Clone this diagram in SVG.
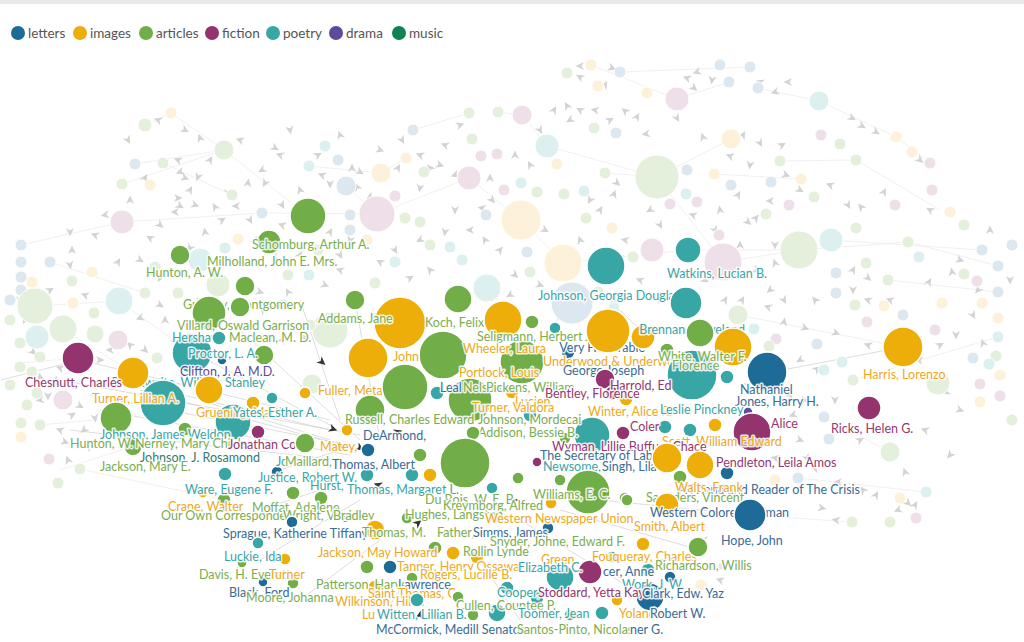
<svg xmlns="http://www.w3.org/2000/svg" xmlns:xlink="http://www.w3.org/1999/xlink" width="1024" height="642" viewBox="0 0 1024 642">
<defs>
<path id="h" d="M4.5,0L-4,-4L-1.5,0L-4,4Z"/>
<style>
text{font-family:Lato,"Noto Sans","Liberation Sans",sans-serif}
.lg{font-size:13.5px;fill:#555}
.t{font-size:12.5px;paint-order:stroke;stroke:#fff;stroke-width:3px;stroke-linejoin:round;stroke-opacity:.85}
.pl{fill:#dde7ef}.pi{fill:#fdf2d9}.pa{fill:#e5f0dc}.pf{fill:#efdfe9}.pp{fill:#dcf0f0}
.L{fill:#1f6b98}.I{fill:#eeae0a}.A{fill:#71ae47}.F{fill:#93346f}.P{fill:#39a6a6}.D{fill:#5c4a9a}.M{fill:#0f8153}
.tL{fill:#3a6c97}.tI{fill:#eda922}.tA{fill:#7aae50}.tF{fill:#94386f}.tP{fill:#3aa5a6}.tD{fill:#5c4a9a}.tM{fill:#2f7d6e}
#bg circle{stroke:#fff;stroke-width:1}
#nodes circle{stroke:#fff;stroke-width:1.5}
#arrows use{fill:#d3d3d3}
#dark use{fill:#333}
</style>
</defs>
<rect width="1024" height="642" fill="#fff"/>
<rect width="1024" height="4" fill="#e9e9e9"/>
<g id="legend">
<circle cx="18" cy="33" r="7" class="L"/><text x="28" y="38" class="lg">letters</text>
<circle cx="80" cy="33" r="7" class="I"/><text x="90" y="38" class="lg">images</text>
<circle cx="146" cy="33" r="7" class="A"/><text x="156" y="38" class="lg">articles</text>
<circle cx="212" cy="33" r="7" class="F"/><text x="222" y="38" class="lg">fiction</text>
<circle cx="273" cy="33" r="7" class="P"/><text x="283" y="38" class="lg">poetry</text>
<circle cx="336" cy="33" r="7" class="D"/><text x="346" y="38" class="lg">drama</text>
<circle cx="399" cy="33" r="7" class="M"/><text x="409" y="38" class="lg">music</text>
</g>
<g id="connectors" fill="none">
<g stroke="#ececec" stroke-width="0.8">
<path d="M145,125L171,113M224,150L308,216M346,186L377,214M381,173L406,158M469,178L521,220M522,115L547,146M547,146L657,177M657,177L731,139M677,99L729,82M819,101L896,137M896,137L930,163M657,177L723,262M723,262L799,250M799,250L908,242M831,240L982,250M35,306L119,301M119,301L192,353M63,329L133,373M780,161L856,160M856,160L940,210M122,184L224,150M163,163L232,195M413,130L469,113M591,65L677,99M620,72L750,67M738,315L903,347M853,380L998,337M888,280L998,292M824,417L890,452M798,478L926,492M852,522L751,515M21,245L122,222M50,262L145,293M20,363L78,358M40,425L116,418M122,222L262,213M262,213L377,214M377,214L469,178M521,220L563,263M563,263L688,250M688,250L799,250M908,242L998,266M60,470L185,429M80,469L224,500M135,164L224,150M171,113L224,150M309,166L381,173M498,112L522,115M605,173L657,177M714,174L801,179M819,101L758,88"/>
</g>
<g stroke="#c9c9c9" stroke-width="0.8" opacity="0.8">
<path d="M60,380L360,435M90,395L350,445M120,380L330,430M170,340L330,425M240,330L360,440M355,300L380,440M300,300L340,420M200,400L330,440M280,470L340,450M230,520L320,490M260,560L360,500M300,600L380,540M380,620L420,560M520,620L480,560M650,600L520,520M700,550L560,510M750,515L600,500M903,347L772,372M545,335L585,285M640,330L600,290M80,360L330,420M100,410L350,455M140,390L360,450M70,430L340,460M1,380L80,360"/>
</g>
</g>
<g id="arrows">
<use href="#h" transform="translate(158,120)rotate(200)"/><use href="#h" transform="translate(185,130)rotate(30)"/><use href="#h" transform="translate(200,138)rotate(250)"/><use href="#h" transform="translate(180,172)rotate(160)"/><use href="#h" transform="translate(145,178)rotate(300)"/><use href="#h" transform="translate(178,160)rotate(200)"/><use href="#h" transform="translate(185,178)rotate(20)"/><use href="#h" transform="translate(198,177)rotate(110)"/><use href="#h" transform="translate(178,198)rotate(0)"/><use href="#h" transform="translate(190,190)rotate(300)"/><use href="#h" transform="translate(175,212)rotate(180)"/><use href="#h" transform="translate(195,205)rotate(20)"/><use href="#h" transform="translate(215,207)rotate(240)"/><use href="#h" transform="translate(228,193)rotate(90)"/><use href="#h" transform="translate(262,170)rotate(150)"/><use href="#h" transform="translate(275,148)rotate(30)"/><use href="#h" transform="translate(280,155)rotate(200)"/><use href="#h" transform="translate(248,183)rotate(280)"/><use href="#h" transform="translate(265,183)rotate(120)"/><use href="#h" transform="translate(282,205)rotate(60)"/><use href="#h" transform="translate(318,155)rotate(330)"/><use href="#h" transform="translate(322,175)rotate(200)"/><use href="#h" transform="translate(330,184)rotate(90)"/><use href="#h" transform="translate(352,168)rotate(270)"/><use href="#h" transform="translate(360,172)rotate(30)"/><use href="#h" transform="translate(357,187)rotate(240)"/><use href="#h" transform="translate(370,197)rotate(150)"/><use href="#h" transform="translate(402,140)rotate(60)"/><use href="#h" transform="translate(420,155)rotate(200)"/><use href="#h" transform="translate(398,168)rotate(300)"/><use href="#h" transform="translate(420,188)rotate(100)"/><use href="#h" transform="translate(430,168)rotate(230)"/><use href="#h" transform="translate(440,165)rotate(20)"/><use href="#h" transform="translate(455,175)rotate(160)"/><use href="#h" transform="translate(490,178)rotate(270)"/><use href="#h" transform="translate(492,200)rotate(50)"/><use href="#h" transform="translate(482,208)rotate(190)"/>
<use href="#h" transform="translate(580,66)rotate(180)"/><use href="#h" transform="translate(580,77)rotate(210)"/><use href="#h" transform="translate(605,85)rotate(300)"/><use href="#h" transform="translate(612,68)rotate(20)"/><use href="#h" transform="translate(687,78)rotate(200)"/><use href="#h" transform="translate(697,72)rotate(160)"/><use href="#h" transform="translate(694,88)rotate(40)"/><use href="#h" transform="translate(684,98)rotate(230)"/><use href="#h" transform="translate(712,80)rotate(100)"/><use href="#h" transform="translate(760,82)rotate(200)"/><use href="#h" transform="translate(788,82)rotate(180)"/><use href="#h" transform="translate(775,92)rotate(160)"/><use href="#h" transform="translate(554,110)rotate(300)"/><use href="#h" transform="translate(567,106)rotate(240)"/><use href="#h" transform="translate(570,120)rotate(150)"/><use href="#h" transform="translate(580,110)rotate(210)"/><use href="#h" transform="translate(595,110)rotate(190)"/><use href="#h" transform="translate(610,120)rotate(330)"/><use href="#h" transform="translate(625,111)rotate(220)"/><use href="#h" transform="translate(637,117)rotate(300)"/><use href="#h" transform="translate(646,134)rotate(170)"/><use href="#h" transform="translate(677,118)rotate(60)"/><use href="#h" transform="translate(703,137)rotate(250)"/><use href="#h" transform="translate(743,135)rotate(300)"/><use href="#h" transform="translate(760,143)rotate(60)"/><use href="#h" transform="translate(730,156)rotate(200)"/><use href="#h" transform="translate(782,145)rotate(330)"/><use href="#h" transform="translate(852,118)rotate(30)"/><use href="#h" transform="translate(862,126)rotate(30)"/><use href="#h" transform="translate(876,132)rotate(30)"/><use href="#h" transform="translate(920,160)rotate(40)"/><use href="#h" transform="translate(786,175)rotate(20)"/><use href="#h" transform="translate(800,190)rotate(30)"/><use href="#h" transform="translate(830,185)rotate(200)"/><use href="#h" transform="translate(848,205)rotate(60)"/><use href="#h" transform="translate(861,207)rotate(230)"/><use href="#h" transform="translate(884,192)rotate(300)"/><use href="#h" transform="translate(590,200)rotate(120)"/><use href="#h" transform="translate(614,194)rotate(290)"/><use href="#h" transform="translate(617,183)rotate(40)"/><use href="#h" transform="translate(697,200)rotate(80)"/><use href="#h" transform="translate(720,210)rotate(260)"/><use href="#h" transform="translate(738,195)rotate(300)"/><use href="#h" transform="translate(750,165)rotate(100)"/><use href="#h" transform="translate(770,201)rotate(180)"/><use href="#h" transform="translate(540,130)rotate(60)"/><use href="#h" transform="translate(530,165)rotate(240)"/><use href="#h" transform="translate(515,155)rotate(270)"/>
<use href="#h" transform="translate(693,215)rotate(200)"/><use href="#h" transform="translate(748,222)rotate(40)"/><use href="#h" transform="translate(756,218)rotate(310)"/><use href="#h" transform="translate(775,245)rotate(90)"/><use href="#h" transform="translate(775,263)rotate(250)"/><use href="#h" transform="translate(757,270)rotate(20)"/><use href="#h" transform="translate(770,290)rotate(140)"/><use href="#h" transform="translate(742,300)rotate(300)"/><use href="#h" transform="translate(768,307)rotate(200)"/><use href="#h" transform="translate(784,300)rotate(60)"/><use href="#h" transform="translate(784,322)rotate(280)"/><use href="#h" transform="translate(805,328)rotate(20)"/><use href="#h" transform="translate(800,360)rotate(150)"/><use href="#h" transform="translate(817,369)rotate(320)"/><use href="#h" transform="translate(815,300)rotate(230)"/><use href="#h" transform="translate(853,290)rotate(90)"/><use href="#h" transform="translate(868,300)rotate(200)"/><use href="#h" transform="translate(853,270)rotate(300)"/><use href="#h" transform="translate(868,278)rotate(40)"/><use href="#h" transform="translate(890,300)rotate(200)"/><use href="#h" transform="translate(900,330)rotate(270)"/><use href="#h" transform="translate(919,360)rotate(190)"/><use href="#h" transform="translate(940,345)rotate(330)"/><use href="#h" transform="translate(956,335)rotate(90)"/><use href="#h" transform="translate(952,272)rotate(260)"/><use href="#h" transform="translate(960,260)rotate(20)"/><use href="#h" transform="translate(978,290)rotate(130)"/><use href="#h" transform="translate(930,210)rotate(210)"/><use href="#h" transform="translate(929,282)rotate(300)"/><use href="#h" transform="translate(973,315)rotate(60)"/><use href="#h" transform="translate(983,343)rotate(250)"/><use href="#h" transform="translate(946,392)rotate(160)"/><use href="#h" transform="translate(1000,320)rotate(100)"/><use href="#h" transform="translate(703,360)rotate(30)"/><use href="#h" transform="translate(748,385)rotate(200)"/><use href="#h" transform="translate(790,395)rotate(300)"/><use href="#h" transform="translate(836,333)rotate(20)"/><use href="#h" transform="translate(868,345)rotate(200)"/><use href="#h" transform="translate(835,400)rotate(90)"/><use href="#h" transform="translate(804,400)rotate(250)"/>
<use href="#h" transform="translate(793,415)rotate(160)"/><use href="#h" transform="translate(780,425)rotate(300)"/><use href="#h" transform="translate(800,440)rotate(20)"/><use href="#h" transform="translate(775,458)rotate(190)"/><use href="#h" transform="translate(807,458)rotate(60)"/><use href="#h" transform="translate(815,468)rotate(200)"/><use href="#h" transform="translate(838,482)rotate(180)"/><use href="#h" transform="translate(822,508)rotate(10)"/><use href="#h" transform="translate(836,520)rotate(190)"/><use href="#h" transform="translate(863,490)rotate(230)"/><use href="#h" transform="translate(876,495)rotate(300)"/><use href="#h" transform="translate(905,472)rotate(250)"/><use href="#h" transform="translate(908,503)rotate(40)"/><use href="#h" transform="translate(898,510)rotate(160)"/><use href="#h" transform="translate(915,505)rotate(300)"/><use href="#h" transform="translate(720,580)rotate(200)"/><use href="#h" transform="translate(704,540)rotate(180)"/>
<use href="#h" transform="translate(70,232)rotate(90)"/><use href="#h" transform="translate(72,250)rotate(270)"/><use href="#h" transform="translate(70,265)rotate(80)"/><use href="#h" transform="translate(95,235)rotate(200)"/><use href="#h" transform="translate(118,262)rotate(300)"/><use href="#h" transform="translate(140,260)rotate(30)"/><use href="#h" transform="translate(150,238)rotate(210)"/><use href="#h" transform="translate(190,248)rotate(120)"/><use href="#h" transform="translate(205,232)rotate(260)"/><use href="#h" transform="translate(180,206)rotate(30)"/><use href="#h" transform="translate(236,206)rotate(180)"/><use href="#h" transform="translate(222,220)rotate(330)"/><use href="#h" transform="translate(250,220)rotate(60)"/><use href="#h" transform="translate(282,225)rotate(200)"/><use href="#h" transform="translate(258,238)rotate(300)"/><use href="#h" transform="translate(275,258)rotate(150)"/><use href="#h" transform="translate(260,292)rotate(20)"/><use href="#h" transform="translate(288,292)rotate(240)"/><use href="#h" transform="translate(305,338)rotate(100)"/><use href="#h" transform="translate(282,340)rotate(300)"/><use href="#h" transform="translate(200,300)rotate(200)"/><use href="#h" transform="translate(160,305)rotate(30)"/><use href="#h" transform="translate(140,318)rotate(160)"/><use href="#h" transform="translate(165,320)rotate(270)"/><use href="#h" transform="translate(145,350)rotate(40)"/><use href="#h" transform="translate(130,345)rotate(220)"/><use href="#h" transform="translate(100,360)rotate(0)"/><use href="#h" transform="translate(110,350)rotate(180)"/><use href="#h" transform="translate(55,380)rotate(300)"/><use href="#h" transform="translate(48,396)rotate(90)"/><use href="#h" transform="translate(60,368)rotate(200)"/><use href="#h" transform="translate(33,352)rotate(40)"/><use href="#h" transform="translate(40,377)rotate(260)"/><use href="#h" transform="translate(25,320)rotate(120)"/><use href="#h" transform="translate(105,385)rotate(0)"/><use href="#h" transform="translate(112,398)rotate(200)"/><use href="#h" transform="translate(72,415)rotate(330)"/><use href="#h" transform="translate(80,406)rotate(30)"/><use href="#h" transform="translate(60,430)rotate(200)"/><use href="#h" transform="translate(65,442)rotate(20)"/><use href="#h" transform="translate(68,460)rotate(250)"/><use href="#h" transform="translate(84,430)rotate(140)"/><use href="#h" transform="translate(88,447)rotate(300)"/><use href="#h" transform="translate(95,418)rotate(80)"/><use href="#h" transform="translate(40,400)rotate(170)"/>
<use href="#h" transform="translate(325,285)rotate(20)"/><use href="#h" transform="translate(340,270)rotate(200)"/><use href="#h" transform="translate(300,255)rotate(300)"/><use href="#h" transform="translate(395,250)rotate(60)"/><use href="#h" transform="translate(420,240)rotate(150)"/><use href="#h" transform="translate(430,270)rotate(230)"/><use href="#h" transform="translate(500,250)rotate(310)"/><use href="#h" transform="translate(515,275)rotate(40)"/><use href="#h" transform="translate(350,240)rotate(110)"/><use href="#h" transform="translate(615,300)rotate(20)"/><use href="#h" transform="translate(640,280)rotate(200)"/><use href="#h" transform="translate(660,300)rotate(120)"/><use href="#h" transform="translate(725,300)rotate(300)"/><use href="#h" transform="translate(715,230)rotate(60)"/><use href="#h" transform="translate(470,230)rotate(180)"/><use href="#h" transform="translate(455,210)rotate(90)"/><use href="#h" transform="translate(580,240)rotate(250)"/><use href="#h" transform="translate(545,230)rotate(30)"/>
<use href="#h" transform="translate(128,140)rotate(60)"/><use href="#h" transform="translate(210,160)rotate(300)"/><use href="#h" transform="translate(240,140)rotate(200)"/><use href="#h" transform="translate(290,130)rotate(80)"/><use href="#h" transform="translate(300,190)rotate(250)"/><use href="#h" transform="translate(160,225)rotate(40)"/><use href="#h" transform="translate(130,200)rotate(270)"/><use href="#h" transform="translate(105,215)rotate(170)"/><use href="#h" transform="translate(232,262)rotate(20)"/><use href="#h" transform="translate(330,232)rotate(300)"/><use href="#h" transform="translate(340,255)rotate(60)"/><use href="#h" transform="translate(380,262)rotate(210)"/><use href="#h" transform="translate(410,278)rotate(330)"/><use href="#h" transform="translate(445,232)rotate(100)"/><use href="#h" transform="translate(485,240)rotate(240)"/><use href="#h" transform="translate(510,295)rotate(150)"/><use href="#h" transform="translate(540,285)rotate(20)"/><use href="#h" transform="translate(600,210)rotate(300)"/><use href="#h" transform="translate(625,240)rotate(190)"/><use href="#h" transform="translate(660,225)rotate(60)"/><use href="#h" transform="translate(740,245)rotate(270)"/><use href="#h" transform="translate(705,280)rotate(30)"/><use href="#h" transform="translate(650,210)rotate(150)"/><use href="#h" transform="translate(460,125)rotate(340)"/><use href="#h" transform="translate(445,145)rotate(200)"/><use href="#h" transform="translate(380,150)rotate(20)"/><use href="#h" transform="translate(340,135)rotate(250)"/><use href="#h" transform="translate(20,300)rotate(90)"/><use href="#h" transform="translate(85,295)rotate(200)"/><use href="#h" transform="translate(50,290)rotate(330)"/><use href="#h" transform="translate(160,278)rotate(120)"/><use href="#h" transform="translate(263,310)rotate(230)"/><use href="#h" transform="translate(990,230)rotate(270)"/><use href="#h" transform="translate(1010,280)rotate(90)"/><use href="#h" transform="translate(960,410)rotate(20)"/><use href="#h" transform="translate(925,430)rotate(200)"/><use href="#h" transform="translate(860,440)rotate(330)"/><use href="#h" transform="translate(950,455)rotate(130)"/>
</g>
<g id="bg">
<circle cx="145" cy="125" r="7" class="pa"/><circle cx="171" cy="113" r="6" class="pi"/><circle cx="135" cy="164" r="6" class="pl"/><circle cx="163" cy="163" r="6" class="pa"/><circle cx="122" cy="184" r="6" class="pa"/><circle cx="150" cy="185" r="6" class="pi"/><circle cx="224" cy="150" r="10" class="pa"/><circle cx="232" cy="195" r="6" class="pa"/><circle cx="325" cy="146" r="6" class="pp"/><circle cx="338" cy="160" r="6" class="pl"/><circle cx="309" cy="166" r="6" class="pp"/><circle cx="346" cy="186" r="10" class="pl"/><circle cx="381" cy="173" r="10" class="pi"/><circle cx="413" cy="130" r="6" class="pl"/><circle cx="406" cy="158" r="6" class="pi"/><circle cx="424" cy="172" r="6" class="pa"/><circle cx="395" cy="196" r="6" class="pf"/><circle cx="377" cy="214" r="18" class="pf"/><circle cx="469" cy="113" r="6" class="pa"/><circle cx="498" cy="112" r="6" class="pa"/><circle cx="472" cy="139" r="6" class="pa"/><circle cx="481" cy="156" r="6" class="pf"/><circle cx="497" cy="154" r="6" class="pf"/><circle cx="469" cy="178" r="12" class="pf"/><circle cx="504" cy="190" r="6" class="pf"/>
<circle cx="567" cy="73" r="6" class="pa"/><circle cx="591" cy="65" r="6" class="pi"/><circle cx="620" cy="72" r="6" class="pl"/><circle cx="598" cy="86" r="6" class="pi"/><circle cx="720" cy="65" r="6" class="pl"/><circle cx="750" cy="67" r="6" class="pl"/><circle cx="729" cy="82" r="6" class="pl"/><circle cx="758" cy="88" r="6" class="pl"/><circle cx="647" cy="93" r="6" class="pi"/><circle cx="677" cy="99" r="12" class="pf"/><circle cx="819" cy="101" r="10" class="pp"/><circle cx="522" cy="115" r="10" class="pf"/><circle cx="547" cy="146" r="12" class="pp"/><circle cx="557" cy="164" r="6" class="pi"/><circle cx="594" cy="128" r="6" class="pa"/><circle cx="616" cy="133" r="6" class="pl"/><circle cx="731" cy="139" r="10" class="pi"/><circle cx="821" cy="135" r="6" class="pf"/><circle cx="840" cy="144" r="6" class="pa"/><circle cx="856" cy="160" r="6" class="pa"/><circle cx="896" cy="137" r="6" class="pi"/><circle cx="912" cy="152" r="6" class="pi"/><circle cx="930" cy="163" r="6" class="pf"/><circle cx="657" cy="177" r="22" class="pa"/><circle cx="687" cy="170" r="6" class="pl"/><circle cx="686" cy="194" r="6" class="pp"/><circle cx="714" cy="174" r="6" class="pi"/><circle cx="731" cy="185" r="6" class="pl"/><circle cx="780" cy="161" r="6" class="pa"/><circle cx="771" cy="182" r="6" class="pl"/><circle cx="801" cy="179" r="6" class="pi"/><circle cx="814" cy="197" r="6" class="pa"/><circle cx="521" cy="183" r="6" class="pp"/><circle cx="537" cy="192" r="6" class="pa"/><circle cx="564" cy="194" r="6" class="pa"/><circle cx="584" cy="191" r="6" class="pp"/><circle cx="605" cy="173" r="6" class="pa"/><circle cx="670" cy="204" r="6" class="pf"/><circle cx="697" cy="202" r="6" class="pf"/><circle cx="789" cy="205" r="6" class="pf"/><circle cx="895" cy="205" r="6" class="pf"/><circle cx="521" cy="220" r="20" class="pi"/>
<circle cx="563" cy="263" r="19" class="pi"/><circle cx="350" cy="215" r="6" class="pl"/><circle cx="350" cy="230" r="6" class="pl"/><circle cx="367" cy="240" r="6" class="pi"/><circle cx="405" cy="218" r="6" class="pa"/><circle cx="420" cy="222" r="6" class="pa"/><circle cx="486" cy="215" r="6" class="pl"/><circle cx="487" cy="288" r="14" class="pp"/><circle cx="527" cy="252" r="6" class="pl"/><circle cx="530" cy="272" r="6" class="pa"/><circle cx="572" cy="303" r="21" class="pl"/><circle cx="586" cy="218" r="6" class="pa"/><circle cx="612" cy="228" r="6" class="pi"/><circle cx="633" cy="257" r="6" class="pa"/><circle cx="652" cy="250" r="12" class="pf"/><circle cx="462" cy="260" r="6" class="pp"/><circle cx="450" cy="247" r="6" class="pp"/><circle cx="395" cy="262" r="6" class="pp"/><circle cx="375" cy="283" r="6" class="pa"/><circle cx="330" cy="330" r="18" class="pa"/><circle cx="310" cy="325" r="6" class="pa"/><circle cx="312" cy="384" r="10" class="pa"/><circle cx="430" cy="245" r="6" class="pa"/><circle cx="598" cy="292" r="6" class="pa"/><circle cx="614" cy="308" r="6" class="pp"/><circle cx="318" cy="250" r="6" class="pa"/><circle cx="283" cy="305" r="6" class="pl"/>
<circle cx="719" cy="235" r="6" class="pf"/><circle cx="723" cy="262" r="19" class="pf"/><circle cx="766" cy="214" r="6" class="pa"/><circle cx="799" cy="250" r="19" class="pa"/><circle cx="831" cy="240" r="12" class="pp"/><circle cx="856" cy="228" r="6" class="pa"/><circle cx="908" cy="242" r="6" class="pa"/><circle cx="866" cy="263" r="6" class="pa"/><circle cx="919" cy="257" r="6" class="pp"/><circle cx="836" cy="273" r="6" class="pl"/><circle cx="836" cy="293" r="6" class="pl"/><circle cx="888" cy="280" r="6" class="pa"/><circle cx="855" cy="305" r="6" class="pa"/><circle cx="982" cy="250" r="6" class="pl"/><circle cx="998" cy="266" r="6" class="pl"/><circle cx="977" cy="281" r="6" class="pf"/><circle cx="998" cy="292" r="6" class="pl"/><circle cx="942" cy="303" r="6" class="pi"/><circle cx="884" cy="306" r="6" class="pi"/><circle cx="903" cy="315" r="6" class="pl"/><circle cx="982" cy="303" r="6" class="pi"/><circle cx="964" cy="274" r="6" class="pa"/><circle cx="867" cy="322" r="6" class="pf"/><circle cx="935" cy="330" r="6" class="pf"/><circle cx="738" cy="315" r="10" class="pa"/><circle cx="754" cy="329" r="6" class="pp"/><circle cx="776" cy="339" r="6" class="pf"/><circle cx="769" cy="346" r="6" class="pa"/><circle cx="817" cy="344" r="6" class="pl"/><circle cx="824" cy="370" r="6" class="pp"/><circle cx="842" cy="362" r="6" class="pp"/><circle cx="853" cy="380" r="6" class="pa"/><circle cx="998" cy="337" r="6" class="pp"/><circle cx="998" cy="318" r="6" class="pi"/><circle cx="996" cy="356" r="6" class="pa"/><circle cx="989" cy="364" r="6" class="pp"/><circle cx="973" cy="358" r="6" class="pl"/><circle cx="1000" cy="375" r="6" class="pi"/><circle cx="980" cy="384" r="6" class="pf"/><circle cx="1000" cy="396" r="6" class="pf"/><circle cx="980" cy="402" r="6" class="pi"/><circle cx="938" cy="383" r="12" class="pa"/><circle cx="932" cy="190" r="6" class="pf"/><circle cx="950" cy="212" r="6" class="pi"/><circle cx="964" cy="225" r="6" class="pa"/><circle cx="1012" cy="245" r="6" class="pl"/><circle cx="1012" cy="420" r="6" class="pa"/>
<circle cx="824" cy="417" r="6" class="pl"/><circle cx="829" cy="439" r="6" class="pl"/><circle cx="890" cy="452" r="10" class="pa"/><circle cx="798" cy="478" r="6" class="pl"/><circle cx="775" cy="480" r="6" class="pi"/><circle cx="900" cy="498" r="6" class="pi"/><circle cx="926" cy="492" r="6" class="pp"/><circle cx="916" cy="518" r="6" class="pf"/><circle cx="852" cy="522" r="6" class="pa"/><circle cx="890" cy="522" r="6" class="pa"/><circle cx="701" cy="585" r="6" class="pi"/><circle cx="722" cy="566" r="4" class="pf"/>
<circle cx="122" cy="222" r="12" class="pf"/><circle cx="21" cy="245" r="6" class="pl"/><circle cx="21" cy="262" r="6" class="pl"/><circle cx="21" cy="277" r="6" class="pl"/><circle cx="21" cy="290" r="6" class="pl"/><circle cx="32" cy="282" r="6" class="pi"/><circle cx="50" cy="262" r="6" class="pl"/><circle cx="92" cy="272" r="6" class="pi"/><circle cx="72" cy="281" r="6" class="pa"/><circle cx="73" cy="303" r="6" class="pi"/><circle cx="145" cy="293" r="6" class="pa"/><circle cx="178" cy="293" r="6" class="pa"/><circle cx="35" cy="306" r="18" class="pa"/><circle cx="119" cy="301" r="14" class="pp"/><circle cx="63" cy="329" r="14" class="pa"/><circle cx="94" cy="313" r="6" class="pa"/><circle cx="37" cy="337" r="12" class="pp"/><circle cx="20" cy="343" r="6" class="pa"/><circle cx="95" cy="334" r="9" class="pa"/><circle cx="20" cy="367" r="6" class="pa"/><circle cx="40" cy="357" r="6" class="pa"/><circle cx="118" cy="340" r="10" class="pf"/><circle cx="157" cy="358" r="6" class="pa"/><circle cx="238" cy="239" r="6" class="pi"/><circle cx="262" cy="213" r="6" class="pl"/><circle cx="225" cy="248" r="6" class="pp"/><circle cx="200" cy="260" r="12" class="pp"/><circle cx="218" cy="285" r="12" class="pa"/><circle cx="288" cy="275" r="6" class="pa"/><circle cx="309" cy="275" r="6" class="pp"/><circle cx="63" cy="400" r="10" class="pf"/><circle cx="37" cy="393" r="6" class="pa"/><circle cx="27" cy="405" r="6" class="pa"/><circle cx="32" cy="372" r="6" class="pa"/><circle cx="49" cy="459" r="6" class="pf"/><circle cx="80" cy="469" r="6" class="pa"/><circle cx="58" cy="483" r="6" class="pa"/><circle cx="21" cy="423" r="6" class="pa"/><circle cx="21" cy="437" r="6" class="pi"/><circle cx="40" cy="425" r="6" class="pa"/><circle cx="155" cy="267" r="6" class="pa"/><circle cx="10" cy="300" r="6" class="pl"/><circle cx="10" cy="320" r="6" class="pa"/><circle cx="10" cy="385" r="6" class="pa"/>
</g>
<g id="dark">
<use href="#h" transform="translate(322,362)rotate(40)"/><use href="#h" transform="translate(333,429)rotate(20)"/><use href="#h" transform="translate(340,447)rotate(10)"/><use href="#h" transform="translate(398,432)rotate(-20)"/><use href="#h" transform="translate(360,448)rotate(30)"/><use href="#h" transform="translate(378,485)rotate(200)"/><use href="#h" transform="translate(418,523)rotate(-40)"/><use href="#h" transform="translate(470,470)rotate(180)"/><use href="#h" transform="translate(514,501)rotate(210)"/><use href="#h" transform="translate(420,615)rotate(-80)"/>
</g>
<g id="nodes">
<g id="n-green1"><circle cx="308" cy="216" r="18" class="A"/></g>
<g id="n-schomburg"><circle cx="269" cy="242" r="12" class="A"/><text x="252" y="249" class="t tA">Schomburg, Arthur A.</text></g>
<g id="n-milholland"><text x="207" y="266" class="t tA">Milholland, John E. Mrs.</text></g>
<g id="n-hunton-aw"><circle cx="180" cy="255" r="10" class="A"/><text x="146" y="277" class="t tA">Hunton, A. W.</text></g>
<g id="n-a245"><circle cx="245" cy="286" r="10" class="A"/></g>
<g id="n-gregory"><text x="183" y="309" class="t tA">Gregory, Montgomery</text><circle cx="209" cy="313" r="17" class="A"/><circle cx="240" cy="307" r="10" class="A"/></g>
<g id="n-i400"><circle cx="400" cy="323" r="26" class="I"/></g>
<g id="n-addams"><circle cx="355" cy="300" r="10" class="A"/><text x="318" y="323" class="t tA">Addams, Jane</text></g>
<g id="n-a264"><circle cx="264" cy="355" r="10" class="A"/></g>
<g id="n-proctor"><circle cx="192" cy="353" r="20" class="P"/><circle cx="222" cy="360" r="5" class="L"/></g>
<g id="n-villard"><text x="177" y="330" class="t tA">Villard, Oswald Garrison</text></g>
<g id="n-hershaw"><text x="172" y="342" class="t tP">Hershaw,</text><circle cx="219" cy="338" r="7" class="P"/><text x="229" y="342" class="t tA">Maclean, M. D.</text><text x="188" y="358" class="t tP">Proctor, L. A.</text><text x="180" y="376" class="t tD">Clifton, J. A. M.D.</text></g>
<g id="n-braithwaite"><text x="265" y="387" text-anchor="end" class="t tP">Braithwaite, William Stanley</text><circle cx="209" cy="390" r="14" class="I"/></g>
<g id="n-p163"><circle cx="163" cy="403" r="23" class="P"/></g>
<g id="n-turner-lillian"><circle cx="133" cy="373" r="16" class="I"/><text x="92" y="403" class="t tI">Turner, Lillian A.</text></g>
<g id="n-chesnutt"><circle cx="78" cy="358" r="16" class="F"/><text x="25" y="387" class="t tF">Chesnutt, Charles</text></g>
<g id="n-fuller"><circle cx="253" cy="403" r="7" class="I"/><circle cx="272" cy="398" r="6" class="P"/><circle cx="305" cy="393" r="6" class="I"/><text x="318" y="395" class="t tI">Fuller, Meta</text></g>
<g id="n-yates"><circle cx="233" cy="422" r="18" class="P"/><text x="196" y="417" class="t tI">Gruening, Martha</text><text x="233" y="417" class="t tP">Yates, Esther A.</text></g>
<g id="n-a116"><circle cx="116" cy="418" r="16" class="A"/><circle cx="185" cy="429" r="7" class="A"/><circle cx="258" cy="432" r="7" class="F"/><circle cx="133" cy="447" r="9" class="A"/></g>
<g id="n-johnson-jw"><text x="100" y="439" class="t tP">Johnson, James Weldon</text><text x="70" y="448" class="t tA">Hunton, W.</text><text x="135" y="448" class="t tA">Nerney, Mary Childs</text><text x="228" y="449" class="t tF">Jonathan Cove</text><text x="140" y="462" class="t tM">Johnson, J. Rosamond</text><text x="100" y="471" class="t tA">Jackson, Mary E.</text></g>
<g id="n-a305"><circle cx="305" cy="443" r="10" class="A"/><circle cx="347" cy="430" r="6" class="I"/></g>
<g id="n-matey"><text x="320" y="451" class="t tI">Matey,</text><circle cx="368" cy="450" r="7" class="L"/></g>
<g id="n-justice"><circle cx="225" cy="474" r="7" class="P"/><circle cx="277" cy="472" r="6" class="L"/><text x="276" y="466" class="t tP">Jc</text><text x="285" y="466" class="t tA">Maillard,</text><text x="258" y="482" class="t tP">Justice, Robert W.</text></g>
<g id="n-ware"><circle cx="203" cy="493" r="5" class="I"/><circle cx="224" cy="500" r="7" class="A"/><circle cx="293" cy="493" r="7" class="A"/><circle cx="321" cy="498" r="7" class="A"/><text x="185" y="494" class="t tP">Ware, Eugene F.</text><text x="310" y="490" class="t tP">Hurst,</text><text x="168" y="511" class="t tI">Crane, Walter</text><text x="161" y="520" class="t tA">Our Own Correspondent</text><text x="252" y="512" class="t tA">Moffat, Adalene</text><text x="283" y="520" class="t tA">Wright, Virginia</text><text x="333" y="520" class="t tA">Bradley</text></g>
<g id="n-sprague"><circle cx="292" cy="522" r="6" class="L"/><text x="223" y="538" class="t tL">Sprague, Katherine Tiffany</text></g>
<g id="n-luckie"><circle cx="258" cy="543" r="6" class="P"/><circle cx="285" cy="559" r="6" class="I"/><circle cx="242" cy="563" r="5" class="A"/><text x="224" y="561" class="t tP">Luckie, Ida</text></g>
<g id="n-davis"><circle cx="263" cy="582" r="5" class="L"/><circle cx="293" cy="583" r="6" class="A"/><text x="199" y="579" class="t tA">Davis, H. Everett</text><text x="269" y="579" class="t tI">Turner</text><text x="229" y="597" class="t tL">Black, Ford</text><text x="246" y="602" class="t tA">Moore, Johanna</text></g>
<g id="n-koch"><circle cx="458" cy="299" r="14" class="A"/><text x="425" y="327" class="t tA">Koch, Felix</text></g>
<g id="n-a443"><circle cx="443" cy="355" r="24" class="A"/></g>
<g id="n-john"><circle cx="368" cy="358" r="20" class="I"/><text x="393" y="361" class="t tI">John</text></g>
<g id="n-a405"><circle cx="405" cy="387" r="23" class="A"/><circle cx="370" cy="410" r="15" class="A"/></g>
<g id="n-seligmann"><circle cx="503" cy="320" r="19" class="I"/><circle cx="532" cy="322" r="7" class="A"/><circle cx="555" cy="328" r="6" class="P"/><circle cx="522" cy="362" r="22" class="A"/><circle cx="568" cy="352" r="7" class="L"/><text x="477" y="341" class="t tA">Seligmann, Herbert J.</text><text x="463" y="353" class="t tI">Wheeler, Laura</text></g>
<g id="n-a470"><circle cx="470" cy="400" r="22" class="A"/><circle cx="437" cy="393" r="7" class="P"/><circle cx="512" cy="392" r="7" class="I"/><circle cx="530" cy="415" r="7" class="P"/></g>
<g id="n-underwood"><text x="543" y="366" class="t tI">Underwood &amp; Underwood</text><text x="645" y="352" text-anchor="end" class="t tL">Very Honorable</text><text x="563" y="375" class="t tL">George Joseph</text><text x="459" y="377" class="t tI">Portlock, Louis</text><text x="440" y="392" class="t tL">Leal</text><text x="463" y="392" class="t tA">Nelson,</text><text x="486" y="392" class="t tA">Pickens, William</text></g>
<g id="n-georgia"><circle cx="606" cy="266" r="19" class="P"/><text x="538" y="300" class="t tP">Johnson, Georgia Douglas</text></g>
<g id="n-i608"><circle cx="608" cy="331" r="22" class="I"/><circle cx="643" cy="337" r="12" class="I"/><circle cx="667" cy="350" r="7" class="A"/></g>
<g id="n-watkins"><circle cx="688" cy="250" r="13" class="P"/><text x="667" y="278" class="t tP">Watkins, Lucian B.</text></g>
<g id="n-p686"><circle cx="686" cy="303" r="16" class="P"/><text x="745" y="334" text-anchor="end" class="t tP">Brennan, Cleveland</text><circle cx="700" cy="333" r="14" class="A"/></g>
<g id="n-white"><circle cx="733" cy="347" r="19" class="I"/><circle cx="692" cy="375" r="25" class="P"/><circle cx="727" cy="377" r="7" class="P"/><text x="658" y="361" class="t tA">White, Walter F.</text><text x="672" y="370" class="t tA">Florence</text></g>
<g id="n-jones"><circle cx="767" cy="372" r="20" class="L"/><text x="740" y="394" class="t tL">Nathaniel</text><text x="735" y="406" class="t tL">Jones, Harry H.</text><circle cx="748" cy="412" r="5" class="D"/></g>
<g id="n-harris"><circle cx="903" cy="347" r="20" class="I"/><text x="863" y="379" class="t tI">Harris, Lorenzo</text></g>
<g id="n-ricks"><circle cx="869" cy="408" r="12" class="F"/><text x="831" y="433" class="t tF">Ricks, Helen G.</text></g>
<g id="n-harrold"><circle cx="605" cy="379" r="10" class="F"/><circle cx="612" cy="393" r="7" class="F"/><circle cx="626" cy="399" r="7" class="I"/><text x="610" y="390" class="t tF">Harrold, Ed</text><text x="545" y="398" class="t tF">Bentley, Florence</text><text x="515" y="406" class="t tI">Lucien</text><text x="472" y="412" class="t tI">Turner, Valdora</text><text x="588" y="416" class="t tI">Winter, Alice R.</text><text x="660" y="414" class="t tP">Leslie Pinckney</text></g>
<g id="n-p592"><circle cx="592" cy="435" r="18" class="P"/><circle cx="623" cy="433" r="7" class="F"/><circle cx="665" cy="427" r="7" class="P"/><circle cx="690" cy="430" r="7" class="P"/><circle cx="715" cy="425" r="7" class="I"/><circle cx="565" cy="438" r="6" class="A"/><text x="630" y="431" class="t tF">Coler</text></g>
<g id="n-alice"><circle cx="752" cy="432" r="19" class="F"/><text x="771" y="428" class="t tF">Alice</text></g>
<g id="n-scott"><text x="662" y="446" class="t tI">Scott, William Edward</text></g>
<g id="n-russell"><text x="345" y="424" class="t tA">Russell, Charles Edward</text><text x="478" y="424" class="t tA">Johnson, Mordecai</text><text x="478" y="437" class="t tA">Addison, Bessie B.</text><text x="363" y="440" class="t tL">DeArmond,</text></g>
<g id="n-a465"><circle cx="420" cy="455" r="7" class="A"/><circle cx="473" cy="433" r="7" class="A"/><circle cx="367" cy="475" r="7" class="P"/><circle cx="412" cy="475" r="7" class="P"/><circle cx="430" cy="475" r="7" class="I"/><circle cx="465" cy="463" r="25" class="A"/></g>
<g id="n-thomas"><text x="332" y="469" class="t tL">Thomas, Albert</text><text x="347" y="494" class="t tP">Thomas, Margaret L.</text></g>
<g id="n-wyman"><circle cx="537" cy="462" r="5" class="F"/><circle cx="518" cy="478" r="6" class="A"/><circle cx="560" cy="480" r="6" class="A"/><circle cx="492" cy="488" r="6" class="P"/><text x="552" y="451" class="t tF">Wyman, Lillie Buffum Chace</text><text x="540" y="460" class="t tL">The Secretary of Labor</text><text x="543" y="471" class="t tP">Newsome,</text><text x="602" y="471" class="t tL">Singh, Lila</text></g>
<g id="n-williams"><circle cx="588" cy="492" r="22" class="A"/><circle cx="625" cy="498" r="6" class="A"/><circle cx="551" cy="503" r="6" class="I"/><text x="533" y="499" class="t tA">Williams, E. C.</text></g>
<g id="n-dubois"><circle cx="407" cy="518" r="6" class="A"/><circle cx="375" cy="530" r="10" class="I"/><circle cx="548" cy="528" r="6" class="L"/><text x="425" y="504" class="t tA">Du Bois, W. E. B.</text><text x="443" y="510" class="t tA">Kreymborg, Alfred</text><text x="405" y="519" class="t tA">Hughes, Langston</text><text x="485" y="523" class="t tI">Western Newspaper Union</text><text x="362" y="537" class="t tA">Thomas, M.</text><text x="437" y="537" class="t tA">Father,</text><text x="473" y="537" class="t tL">Simms, James</text><text x="490" y="546" class="t tA">Snyder, Johne, Edward F.</text></g>
<g id="n-tanner"><circle cx="435" cy="548" r="7" class="A"/><circle cx="453" cy="553" r="7" class="I"/><circle cx="477" cy="557" r="7" class="I"/><circle cx="367" cy="567" r="7" class="A"/><circle cx="390" cy="567" r="7" class="L"/><circle cx="412" cy="578" r="6" class="A"/><circle cx="375" cy="587" r="7" class="I"/><text x="318" y="557" class="t tI">Jackson, May Howard</text><text x="463" y="556" class="t tA">Rollin Lynde</text><text x="397" y="571" class="t tI">Tanner, Henry Ossawa</text><text x="420" y="579" class="t tI">Rogers, Lucille B.</text><text x="316" y="589" class="t tA">Patterson, Harvey</text><text x="398" y="589" class="t tL">Lawrence</text><text x="368" y="598" class="t tI">Saint Thomas, C.</text><text x="335" y="606" class="t tI">Wilkinson, Hilda</text></g>
<g id="n-elizabeth"><circle cx="560" cy="577" r="14" class="P"/><circle cx="590" cy="572" r="12" class="F"/><circle cx="612" cy="557" r="6" class="P"/><circle cx="648" cy="570" r="7" class="P"/><text x="541" y="564" class="t tI">Green</text><text x="518" y="572" class="t tP">Elizabeth C.</text><text x="592" y="561" class="t tI">Fouqueray, Charles</text><text x="655" y="570" class="t tA">Richardson, Willis</text><text x="603" y="576" class="t tL">cer, Anne</text></g>
<g id="n-stoddard"><circle cx="507" cy="588" r="7" class="P"/><circle cx="537" cy="598" r="7" class="P"/><circle cx="670" cy="577" r="6" class="L"/><circle cx="650" cy="597" r="14" class="L"/><circle cx="617" cy="600" r="6" class="I"/><text x="497" y="597" class="t tP">Cooper, J.</text><text x="622" y="589" class="t tP">Work, J. W.</text><text x="538" y="597" class="t tF">Stoddard, Yetta Kay</text><text x="642" y="598" class="t tL">Clark, Edw. Yaz</text></g>
<g id="n-toomer"><circle cx="417" cy="600" r="7" class="P"/><circle cx="458" cy="597" r="6" class="A"/><circle cx="473" cy="615" r="6" class="A"/><circle cx="497" cy="613" r="9" class="P"/><circle cx="570" cy="615" r="6" class="A"/><circle cx="602" cy="613" r="7" class="P"/><text x="456" y="610" class="t tA">Cullen, Countee P.</text><text x="362" y="619" class="t tI">Lu</text><text x="377" y="619" class="t tP">Witten, Lillian B.</text><text x="518" y="618" class="t tP">Toomer, Jean</text><text x="619" y="618" class="t tI">Yolande</text><text x="650" y="618" class="t tL">Robert W.</text><text x="376" y="634" class="t tL">McCormick, Medill Senator</text><text x="517" y="634" class="t tA">Santos-Pinto, Nicolas</text><text x="630" y="634" class="t tL">ner G.</text></g>
<g id="n-pendleton"><circle cx="680" cy="477" r="7" class="A"/><circle cx="667" cy="458" r="15" class="I"/><circle cx="700" cy="465" r="14" class="I"/><circle cx="727" cy="473" r="7" class="L"/><text x="716" y="467" class="t tF">Pendleton, Leila Amos</text></g>
<g id="n-friend"><text x="860" y="494" text-anchor="end" class="t tL">A Friend and Reader of The Crisis</text><circle cx="627" cy="500" r="6" class="A"/><text x="675" y="492" class="t tI">Walts, Frank</text><text x="646" y="502" class="t tA">Saunders, Vincent</text><circle cx="667" cy="505" r="12" class="I"/></g>
<g id="n-hope"><text x="650" y="517" class="t tL">Western Colored Woman</text><circle cx="750" cy="515" r="16" class="L"/><text x="634" y="531" class="t tI">Smith, Albert</text><text x="721" y="545" class="t tL">Hope, John</text><circle cx="643" cy="544" r="7" class="I"/><circle cx="698" cy="547" r="10" class="A"/></g>
</g>
</svg>
